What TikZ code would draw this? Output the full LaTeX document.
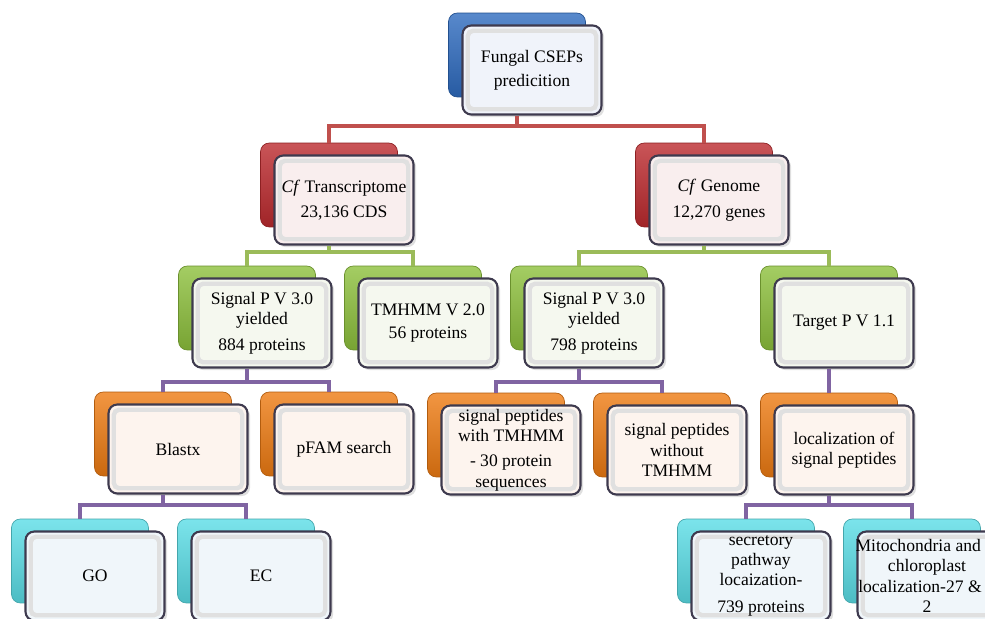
\documentclass[tikz,border=0pt]{standalone}
\usepackage{fontspec}
\setmainfont{Liberation Serif}
\usetikzlibrary{shadows}
\definecolor{cblue}{HTML}{2E6BBF}
\definecolor{cred}{HTML}{BC2A2E}
\definecolor{cgreen}{HTML}{8DC03C}
\definecolor{corange}{HTML}{EE7B12}
\definecolor{ccyan}{HTML}{5ADDE6}
\definecolor{tblue}{HTML}{F0F3FA}
\definecolor{tred}{HTML}{F9EEEE}
\definecolor{tgreen}{HTML}{F5F8EF}
\definecolor{torange}{HTML}{FDF4EE}
\definecolor{tcyan}{HTML}{F0F6FA}
\definecolor{boxline}{HTML}{3E3A4E}
\definecolor{lred}{HTML}{C0504D}
\definecolor{lgreen}{HTML}{9BBB59}
\definecolor{lpurple}{HTML}{8064A2}
\begin{document}
\begin{tikzpicture}[x=0.02cm, y=-0.02cm,
  every node/.style={font=\fontsize{10}{11.5}\selectfont},
  backbox/.style={rounded corners=5pt, minimum width=2.74cm, minimum height=1.68cm,
    draw=#1!75!black, line width=0.4pt, top color=#1!80!white, bottom color=#1!85!black},
  frontbox/.style={rounded corners=5pt, minimum width=2.78cm, minimum height=1.78cm,
    draw=boxline, line width=1.2pt, fill=#1, align=center, inner sep=2pt,
    drop shadow={opacity=0.25, shadow xshift=1.5pt, shadow yshift=-1.5pt},
    path picture={\draw[black!12, line width=2.5pt, rounded corners=3pt]
      ([shift={(3pt,-3pt)}]path picture bounding box.north west) rectangle
      ([shift={(-3pt,3pt)}]path picture bounding box.south east);}},
  redline/.style={line width=1.8pt, draw=lred},
  greenline/.style={line width=1.8pt, draw=lgreen},
  purpleline/.style={line width=1.8pt, draw=lpurple}]
  \clip (0,0) rectangle (985,619);
  \fill[white] (0,0) rectangle (985,619);

  % top
  \node[backbox=cblue] (topB) at (517,55) {};
  \node[frontbox=tblue] (top) at (532,70) {Fungal CSEPs\\[2pt]predicition};

  % level 2: transcriptome and genome
  \node[backbox=cred] (trB) at (329,185) {};
  \node[frontbox=tred] (tr) at (344,200) {\textit{Cf} Transcriptome\\[3pt]23,136 CDS};
  \node[backbox=cred] (genB) at (704,185) {};
  \node[frontbox=tred] (gen) at (719,200) {\textit{Cf} Genome\\[3pt]12,270 genes};

  % level 3
  \node[backbox=cgreen] (sp1B) at (247,308) {};
  \node[frontbox=tgreen] (sp1) at (262,323) {Signal P V 3.0\\yielded\\[3pt]884 proteins};
  \node[backbox=cgreen] (tmB) at (413,308) {};
  \node[frontbox=tgreen] (tm) at (428,323) {TMHMM V 2.0\\[2pt]56 proteins};
  \node[backbox=cgreen] (sp2B) at (579,308) {};
  \node[frontbox=tgreen] (sp2) at (594,323) {Signal P V 3.0\\yielded\\[3pt]798 proteins};
  \node[backbox=cgreen] (tpB) at (829,308) {};
  \node[frontbox=tgreen] (tp) at (844,323) {Target P V 1.1};

  % level 4
  \node[backbox=corange] (blB) at (163,434) {};
  \node[frontbox=torange] (bl) at (178,449) {Blastx};
  \node[backbox=corange] (pfB) at (329,434) {};
  \node[frontbox=torange] (pf) at (344,449) {pFAM search};
  \node[backbox=corange] (swB) at (496,435) {};
  \node[frontbox=torange] (sw) at (511,450) {signal peptides\\with TMHMM\\[3pt]- 30 protein\\sequences};
  \node[backbox=corange] (soB) at (662,435) {};
  \node[frontbox=torange] (so) at (677,450) {signal peptides\\without\\TMHMM};
  \node[backbox=corange] (loB) at (829,435) {};
  \node[frontbox=torange] (lo) at (844,450) {localization of\\signal peptides};

  % level 5
  \node[backbox=ccyan] (goB) at (80,561) {};
  \node[frontbox=tcyan] (go) at (95,576) {GO};
  \node[backbox=ccyan] (ecB) at (246,561) {};
  \node[frontbox=tcyan] (ec) at (261,576) {EC};
  \node[backbox=ccyan] (seB) at (746,561) {};
  \node[frontbox=tcyan] (se) at (761,576) {secretory\\pathway\\locaization-\\[4pt]739 proteins};
  \node[backbox=ccyan] (miB) at (912,561) {};
  \node[frontbox=tcyan] (mi) at (927,576) {\hspace*{-10pt}Mitochondria and\\chloroplast\\\hspace*{-8pt}localization-27 \&\\2};

  % connectors
  \coordinate (bar1) at (topB |- 0,126);
  \draw[redline] (topB |- top.south) -- (bar1);
  \draw[redline] (trB.north) |- (genB |- bar1) -- (genB.north);

  \coordinate (bar2) at (trB |- 0,252);
  \draw[greenline] (trB |- tr.south) -- (bar2);
  \draw[greenline] (sp1B.north) |- (tmB |- bar2) -- (tmB.north);
  \coordinate (bar3) at (genB |- 0,252);
  \draw[greenline] (genB |- gen.south) -- (bar3);
  \draw[greenline] (sp2B.north) |- (tpB |- bar3) -- (tpB.north);

  \coordinate (bar4) at (sp1B |- 0,382);
  \draw[purpleline] (sp1B |- sp1.south) -- (bar4);
  \draw[purpleline] (blB.north) |- (pfB |- bar4) -- (pfB.north);
  \coordinate (bar5) at (sp2B |- 0,382);
  \draw[purpleline] (sp2B |- sp2.south) -- (bar5);
  \draw[purpleline] (swB.north) |- (soB |- bar5) -- (soB.north);
  \draw[purpleline] (tpB |- tp.south) -- (loB.north);

  \coordinate (bar6) at (blB |- 0,505);
  \draw[purpleline] (blB |- bl.south) -- (bar6);
  \draw[purpleline] (goB.north) |- (ecB |- bar6) -- (ecB.north);
  \coordinate (bar7) at (loB |- 0,505);
  \draw[purpleline] (loB |- lo.south) -- (bar7);
  \draw[purpleline] (seB.north) |- (miB |- bar7) -- (miB.north);
\end{tikzpicture}
\end{document}
